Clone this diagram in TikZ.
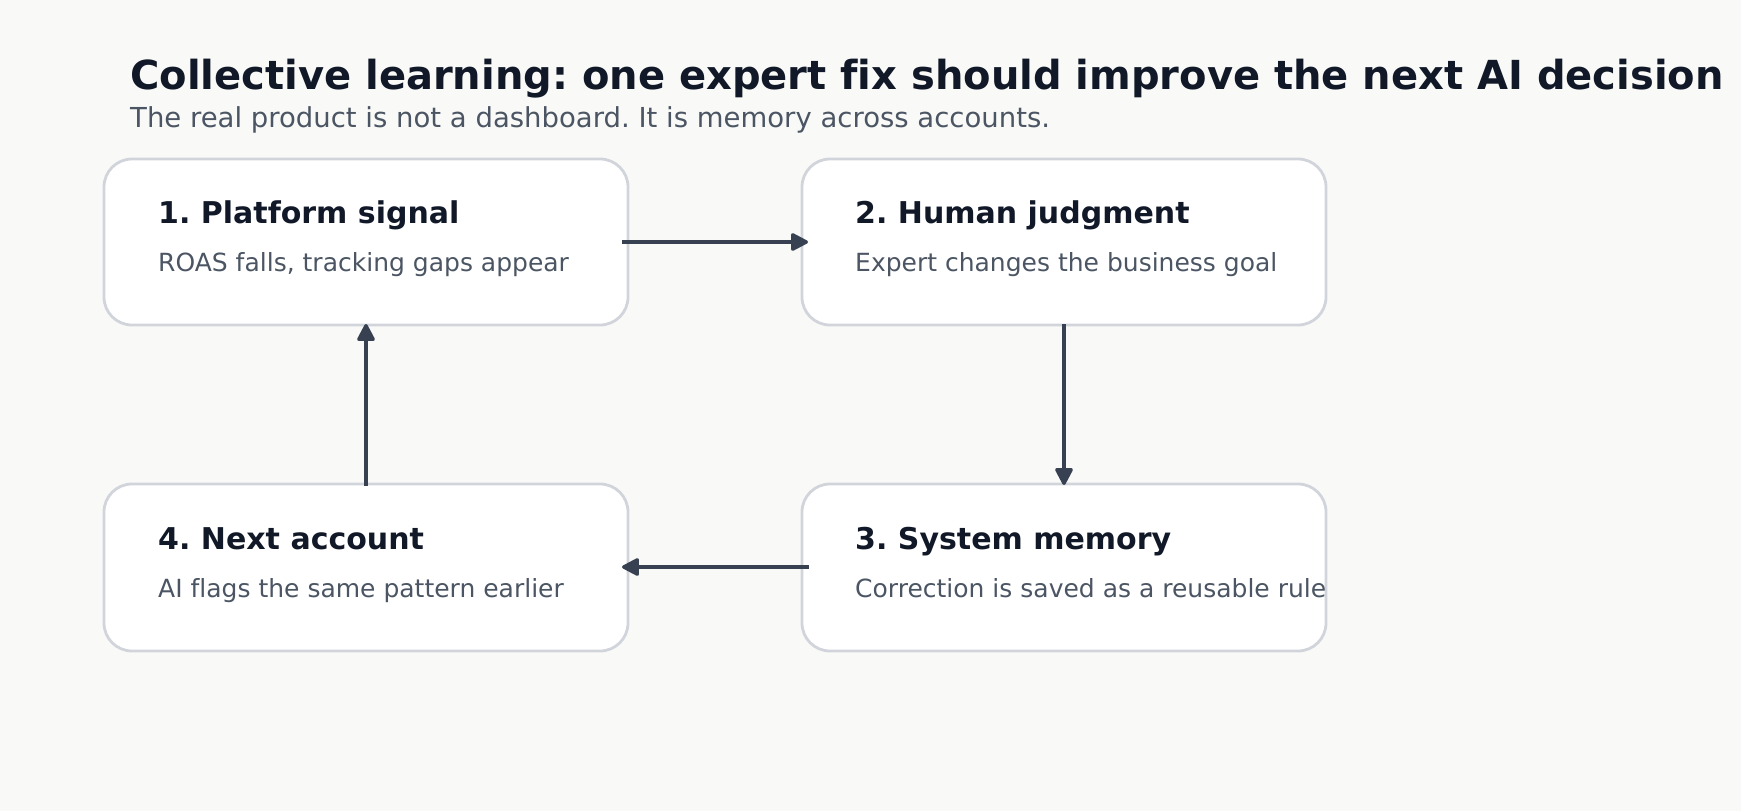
\documentclass[tikz,border=0pt]{standalone}
\usepackage{fontspec}
\setmainfont[Ligatures=NoCommon]{DejaVu Sans}
\usetikzlibrary{arrows.meta}
\definecolor{bg}{HTML}{F9FAF7}
\definecolor{boxline}{HTML}{D1D5DB}
\definecolor{titlec}{HTML}{111827}
\definecolor{subc}{HTML}{4B5563}
\definecolor{arrowc}{HTML}{374151}
\tikzset{
  card/.style={draw=boxline, line width=2.8pt, fill=white, rounded corners=28pt},
  head/.style={anchor=base west, inner sep=0pt, text=titlec, font=\fontsize{30}{36}\selectfont\bfseries},
  desc/.style={anchor=base west, inner sep=0pt, text=subc, font=\fontsize{25}{30}\selectfont},
  flow/.style={draw=arrowc, line width=3.3pt, -{Triangle[length=19pt,width=19pt,round]}},
}
\frenchspacing
\begin{document}
\begin{tikzpicture}[x=1pt,y=-1pt]
\fill[bg] (0,0) rectangle (1741,811);
\useasboundingbox (0,0) rectangle (1741,811);
\node[anchor=base west, inner sep=0pt, text=titlec, font=\fontsize{40}{48}\selectfont\bfseries] (title) at (130,89) {Collective learning: one expert fix should improve the next AI decision};
\node[anchor=base west, inner sep=0pt, text=subc, font=\fontsize{27.5}{33}\selectfont] (subtitle) at (130,127) {The real product is not a dashboard. It is memory across accounts.};
% boxes
\draw[card] (104,159) rectangle (628,325);
\draw[card] (802,159) rectangle (1326,325);
\draw[card] (802,484) rectangle (1326,651);
\draw[card] (104,484) rectangle (628,651);
\node[head] (h1) at (158,223) {1. Platform signal};
\node[desc] (d1) at (158,271) {ROAS falls, tracking gaps appear};
\node[head] (h2) at (855,223) {2. Human judgment};
\node[desc] (d2) at (855,271) {Expert changes the business goal};
\node[head] (h3) at (855,549) {3. System memory};
\node[desc] (d3) at (855,597) {Correction is saved as a reusable rule};
\node[head] (h4) at (158,549) {4. Next account};
\node[desc] (d4) at (158,597) {AI flags the same pattern earlier};
% connectors
\coordinate (a1s) at (622,242);
\coordinate (a1e) at (808,242);
\coordinate (a2s) at (1064,324);
\coordinate (a2e) at (1064,485);
\coordinate (a3s) at (809,567);
\coordinate (a3e) at (622,567);
\coordinate (a4s) at (366,486);
\coordinate (a4e) at (366,324);
\draw[flow] (a1s) -- (a1e);
\draw[flow] (a2s) -- (a2e);
\draw[flow] (a3s) -- (a3e);
\draw[flow] (a4s) -- (a4e);
\end{tikzpicture}
\end{document}
